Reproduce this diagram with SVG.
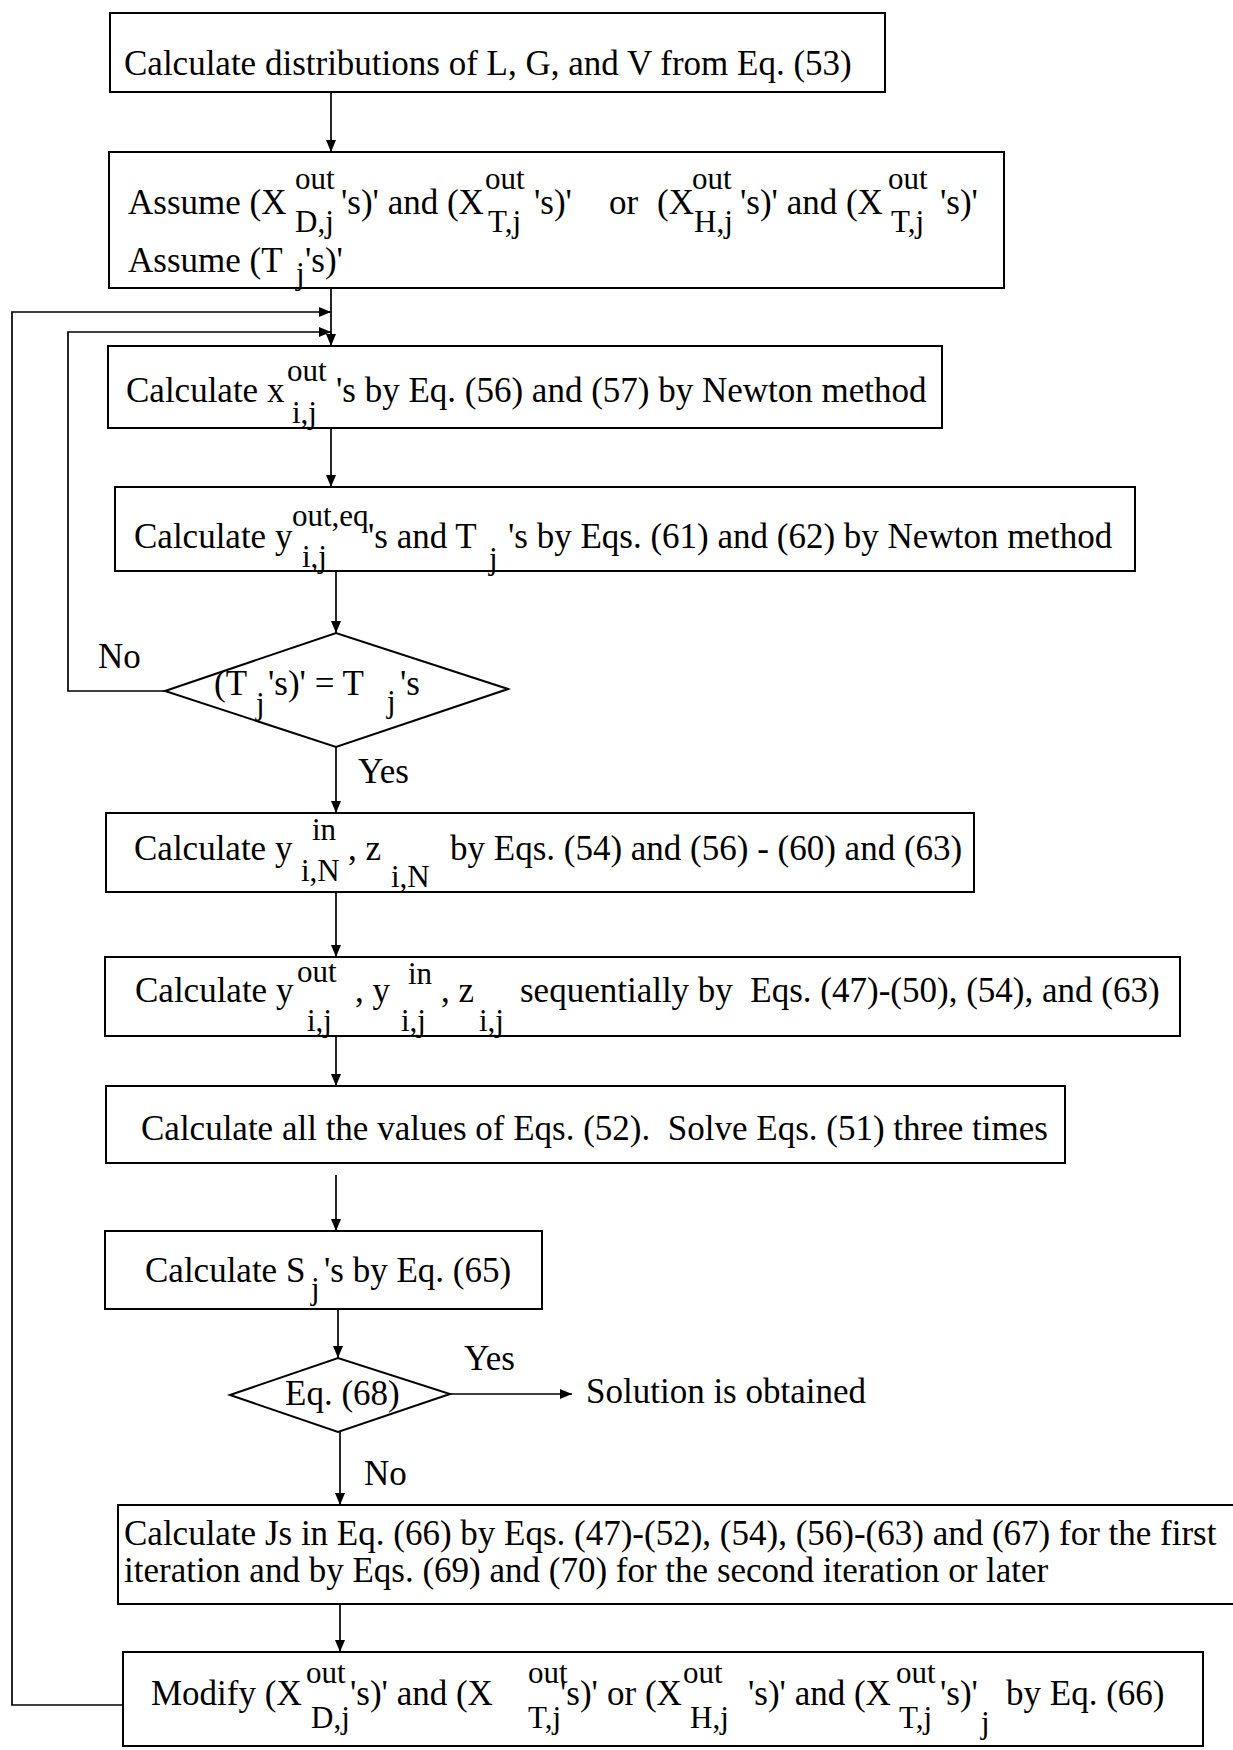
<svg xmlns="http://www.w3.org/2000/svg" width="1233" height="1750" viewBox="0 0 1233 1750">
<style>
.box{fill:none;stroke:#000;stroke-width:2}
.ln{fill:none;stroke:#000;stroke-width:1.7}
text{font-family:"Liberation Serif","Times New Roman",serif;font-size:35px;fill:#000;white-space:pre}
.s{font-size:31px}
</style>
<defs>
<marker id="ah" viewBox="0 0 12 10" refX="12" refY="5" markerWidth="12" markerHeight="10" markerUnits="userSpaceOnUse" orient="auto">
<path d="M0,0 L12,5 L0,10 z" fill="#000"/>
</marker>
</defs>
<rect width="1233" height="1750" fill="#fff"/>

<g id="connectors">
<line class="ln" x1="331" y1="92" x2="331" y2="152" marker-end="url(#ah)"/>
<line class="ln" x1="331" y1="288" x2="331" y2="346" marker-end="url(#ah)"/>
<polyline class="ln" points="123,1705 12,1705 12,312 331,312" marker-end="url(#ah)"/>
<polyline class="ln" points="165,691 68,691 68,332 331,332" marker-end="url(#ah)"/>
<line class="ln" x1="331" y1="428" x2="331" y2="487" marker-end="url(#ah)"/>
<line class="ln" x1="336" y1="571" x2="336" y2="633" marker-end="url(#ah)"/>
<line class="ln" x1="336" y1="747" x2="336" y2="813" marker-end="url(#ah)"/>
<line class="ln" x1="336" y1="892" x2="336" y2="957" marker-end="url(#ah)"/>
<line class="ln" x1="336" y1="1036" x2="336" y2="1086" marker-end="url(#ah)"/>
<line class="ln" x1="336" y1="1175" x2="336" y2="1231" marker-end="url(#ah)"/>
<line class="ln" x1="338" y1="1309" x2="338" y2="1358" marker-end="url(#ah)"/>
<line class="ln" x1="450" y1="1394" x2="572" y2="1394" marker-end="url(#ah)"/>
<line class="ln" x1="340" y1="1432" x2="340" y2="1505" marker-end="url(#ah)"/>
<line class="ln" x1="340" y1="1604" x2="340" y2="1652" marker-end="url(#ah)"/>
<text x="98" y="668">No</text>
<text x="358" y="783">Yes</text>
<text x="464" y="1370">Yes</text>
<text x="364" y="1485">No</text>
</g>

<g id="n1">
<rect class="box" x="110" y="13" width="775" height="79"/>
<text x="124" y="75">Calculate distributions of L, G, and V from Eq. (53)</text>
</g>

<g id="n2">
<rect class="box" x="109" y="152" width="895" height="136"/>
<text x="128" y="214">Assume (X</text>
<text class="s" x="295" y="189">out</text>
<text class="s" x="295" y="232">D,j</text>
<text x="341" y="214">'s)' and (X</text>
<text class="s" x="485" y="189">out</text>
<text class="s" x="488" y="232">T,j</text>
<text x="534" y="214">'s)'</text>
<text x="609" y="214">or</text>
<text x="657" y="214">(X</text>
<text class="s" x="692" y="189">out</text>
<text class="s" x="694" y="232">H,j</text>
<text x="740" y="214">'s)' and (X</text>
<text class="s" x="888" y="189">out</text>
<text class="s" x="891" y="232">T,j</text>
<text x="940" y="214">'s)'</text>
<text x="128" y="272">Assume (T</text>
<text class="s" x="296" y="284">j</text>
<text x="305" y="272">'s)'</text>
</g>

<g id="n3">
<rect class="box" x="108" y="346" width="834" height="82"/>
<text x="126" y="402">Calculate x</text>
<text class="s" x="287" y="381">out</text>
<text class="s" x="292" y="423">i,j</text>
<text x="336" y="402">'s by Eq. (56) and (57) by Newton method</text>
</g>

<g id="n4">
<rect class="box" x="115" y="487" width="1020" height="84"/>
<text x="134" y="548">Calculate y</text>
<text class="s" x="292" y="526">out,eq</text>
<text class="s" x="302" y="567">i,j</text>
<text x="368" y="548">'s and T</text>
<text class="s" x="489" y="569">j</text>
<text x="508" y="548">'s by Eqs. (61) and (62) by Newton method</text>
</g>

<g id="d1">
<polygon class="box" points="165,691 336,633 508,689 336,747"/>
<text x="214" y="695">(T</text>
<text class="s" x="256" y="714">j</text>
<text x="268" y="695">'s)' = T</text>
<text class="s" x="387" y="712">j</text>
<text x="400" y="695">'s</text>
</g>

<g id="n5">
<rect class="box" x="106" y="813" width="868" height="79"/>
<text x="134" y="860">Calculate y</text>
<text class="s" x="312" y="840">in</text>
<text class="s" x="301" y="881">i,N</text>
<text x="348" y="860">, z</text>
<text class="s" x="391" y="887">i,N</text>
<text x="450" y="860">by Eqs. (54) and (56) - (60) and (63)</text>
</g>

<g id="n6">
<rect class="box" x="105" y="957" width="1075" height="79"/>
<text x="135" y="1002">Calculate y</text>
<text class="s" x="297" y="982">out</text>
<text class="s" x="307" y="1031">i,j</text>
<text x="355" y="1002">, y</text>
<text class="s" x="408" y="984">in</text>
<text class="s" x="401" y="1031">i,j</text>
<text x="441" y="1002">, z</text>
<text class="s" x="479" y="1031">i,j</text>
<text x="520" y="1002">sequentially by  Eqs. (47)-(50), (54), and (63)</text>
</g>

<g id="n7">
<rect class="box" x="106" y="1086" width="959" height="77"/>
<text x="141" y="1140">Calculate all the values of Eqs. (52).  Solve Eqs. (51) three times</text>
</g>

<g id="n8">
<rect class="box" x="105" y="1231" width="437" height="78"/>
<text x="145" y="1282">Calculate S</text>
<text class="s" x="311" y="1299">j</text>
<text x="324" y="1282">'s by Eq. (65)</text>
</g>

<g id="d2">
<polygon class="box" points="230,1395 338,1358 450,1394 338,1432"/>
<text x="285" y="1405">Eq. (68)</text>
</g>

<g id="n_end">
<text x="586" y="1403">Solution is obtained</text>
</g>

<g id="n9">
<rect class="box" x="118" y="1505" width="1130" height="99"/>
<text x="124" y="1545">Calculate Js in Eq. (66) by Eqs. (47)-(52), (54), (56)-(63) and (67) for the first<tspan x="124" y="1582">iteration and by Eqs. (69) and (70) for the second iteration or later</tspan></text>
</g>

<g id="n10">
<rect class="box" x="123" y="1652" width="1080" height="94"/>
<text x="151" y="1705">Modify (X</text>
<text class="s" x="306" y="1683">out</text>
<text class="s" x="311" y="1728">D,j</text>
<text x="350" y="1705">'s)' and (X</text>
<text class="s" x="528" y="1683">out</text>
<text class="s" x="528" y="1728">T,j</text>
<text x="560" y="1705">'s)'</text>
<text x="607" y="1705">or (X</text>
<text class="s" x="683" y="1683">out</text>
<text class="s" x="690" y="1728">H,j</text>
<text x="748" y="1705">'s)' and (X</text>
<text class="s" x="896" y="1683">out</text>
<text class="s" x="899" y="1728">T,j</text>
<text x="940" y="1705">'s)'</text>
<text class="s" x="981" y="1733">j</text>
<text x="1006" y="1705">by Eq. (66)</text>
</g>
</svg>
